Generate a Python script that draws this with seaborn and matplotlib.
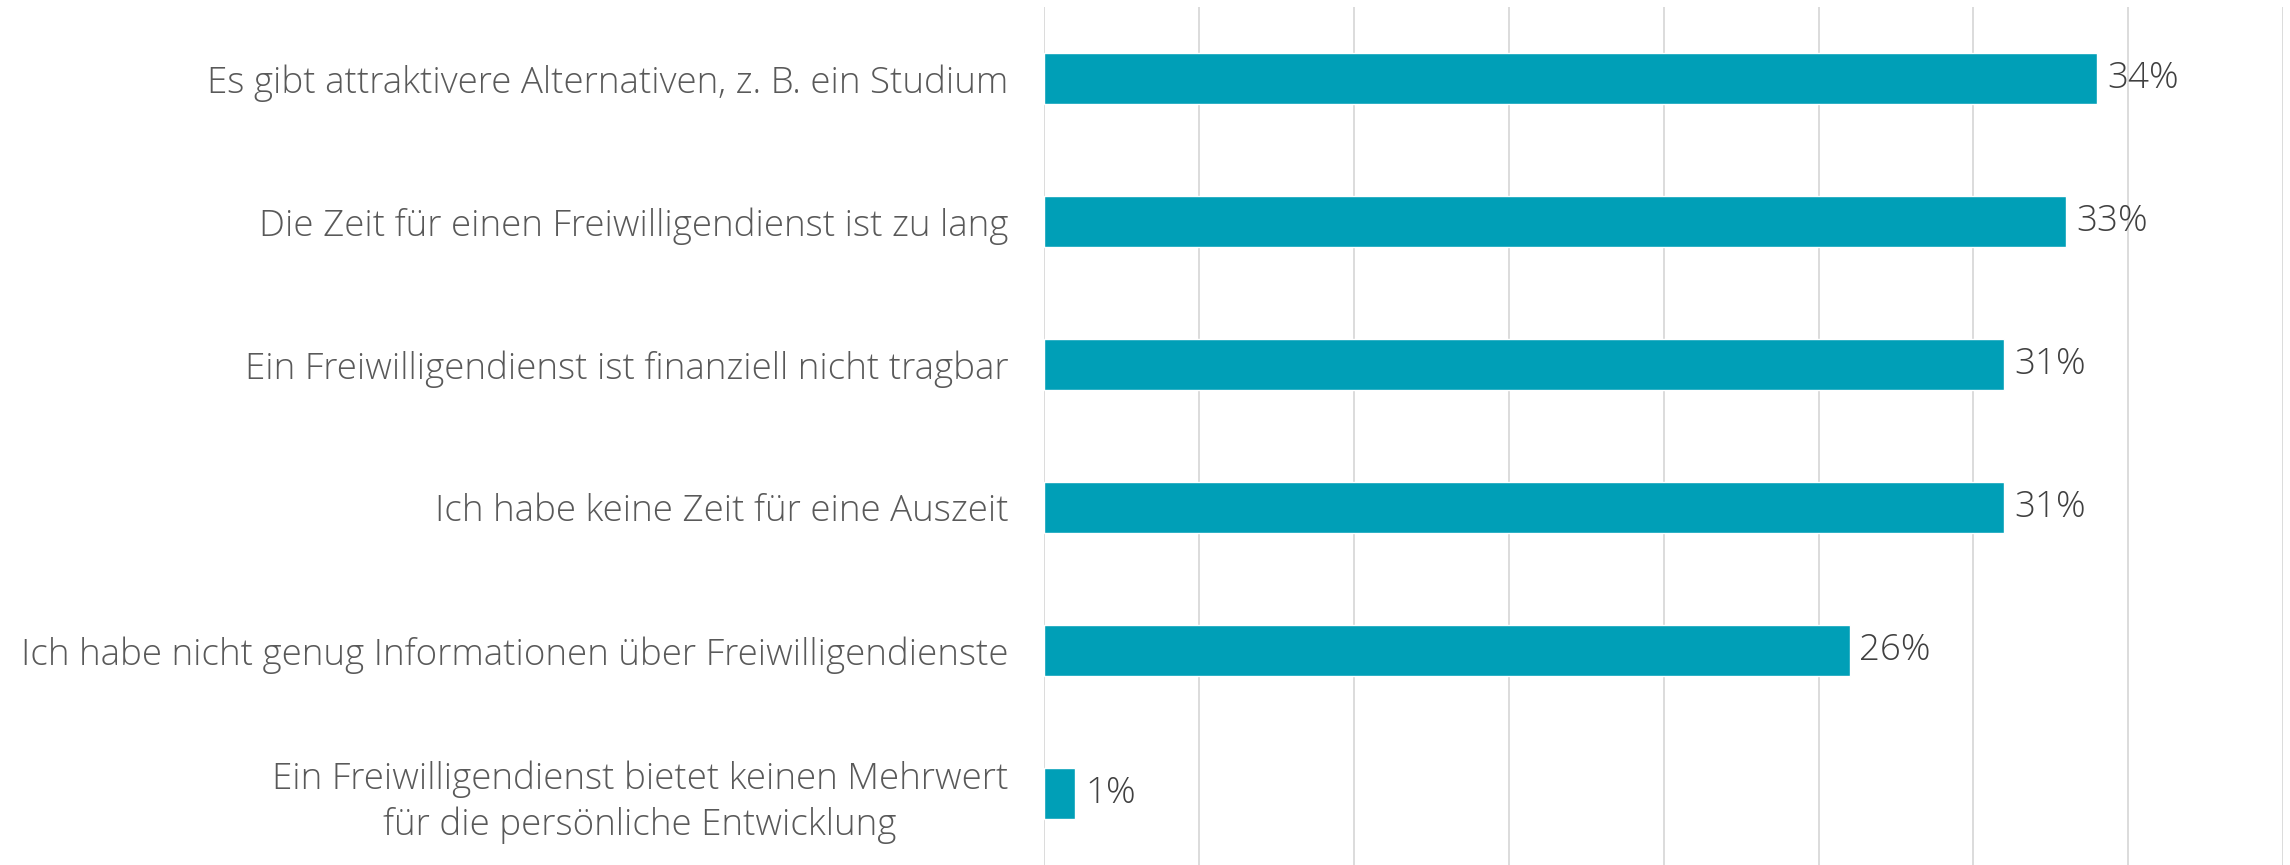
import matplotlib
matplotlib.use("Agg")
import matplotlib.pyplot as plt
import seaborn as sns
import pandas as pd

# ===============================
#   DATA
# ===============================
reasons = [
    "Es gibt attraktivere Alternativen, z. B. ein Studium",
    "Die Zeit für einen Freiwilligendienst ist zu lang",
    "Ein Freiwilligendienst ist finanziell nicht tragbar",
    "Ich habe keine Zeit für eine Auszeit",
    "Ich habe nicht genug Informationen über Freiwilligendienste",
    "Ein Freiwilligendienst bietet keinen Mehrwert\nfür die persönliche Entwicklung",
]
shares = [34, 33, 31, 31, 26, 1]
value_labels = ["34%", "33%", "31%", "31%", "26%", "1%"]

df = pd.DataFrame({"reason": reasons, "share": shares})

# ===============================
#   STYLE
# ===============================
sns.set_style("white")
plt.rcParams["font.family"] = ["Open Sans", "DejaVu Sans"]

bar_color = "#009FB7"
label_color = "#595959"

fig = plt.figure(figsize=(22.9, 8.65), dpi=100)
ax = fig.add_axes([0.456, 0.0, 0.541, 0.992])

sns.barplot(data=df, y="reason", x="share", color=bar_color,
            width=0.356, saturation=1, ax=ax)

ax.set_xlim(0, 40)
ax.set_ylim(5.5, -0.5)
ax.set_xticks(range(0, 41, 5))
ax.grid(axis="x", color="#D9D9D9", linewidth=1.3)
ax.set_axisbelow(True)
ax.tick_params(axis="x", length=0, labelbottom=False)
ax.tick_params(axis="y", length=0, pad=26, labelsize=26.5, labelcolor=label_color)
for lbl in ax.get_yticklabels():
    lbl.set_multialignment("center")
    lbl.set_fontweight("light")
    lbl.set_linespacing(1.3)
for s in ax.spines.values():
    s.set_visible(False)
ax.set_xlabel("")
ax.set_ylabel("")

for i, (v, t) in enumerate(zip(shares, value_labels)):
    ax.annotate(t, xy=(v, i), xytext=(7, 0), textcoords="offset points",
                va="center", ha="left", fontsize=26.5, fontweight="light",
                color="#404040")

fig.savefig("out.png", dpi=100)
